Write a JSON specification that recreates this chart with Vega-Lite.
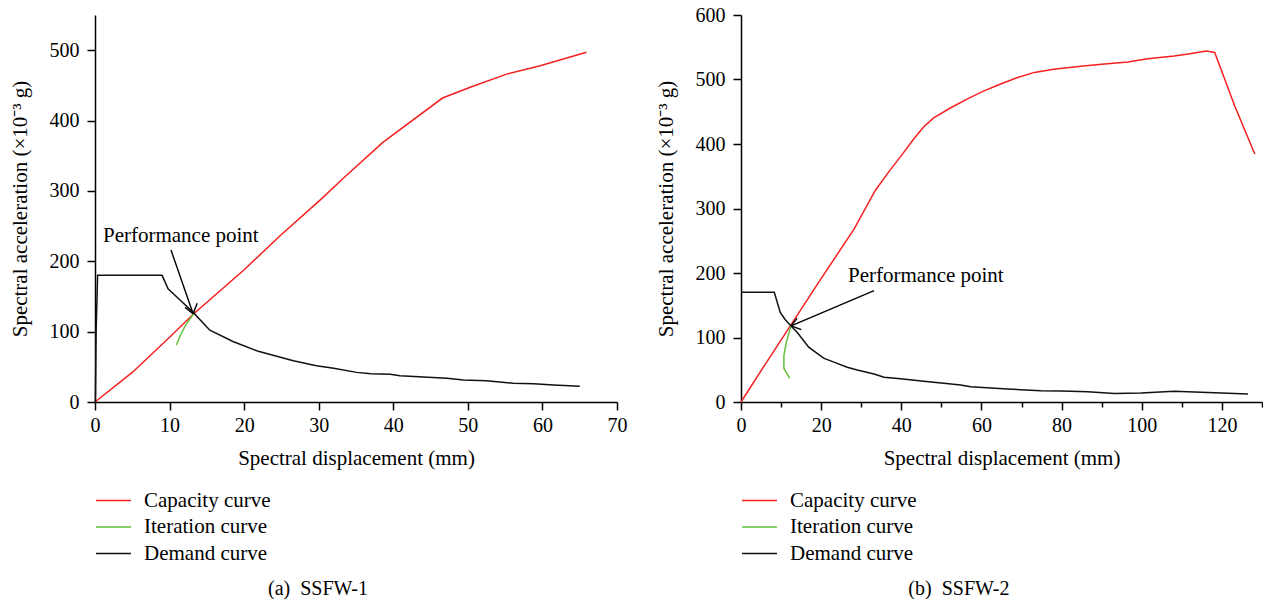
{
  "$schema": "https://vega.github.io/schema/vega-lite/v6.json",
  "padding": {"left": 9, "top": 5, "right": 0, "bottom": 0},
  "background": "white",
  "config": {
    "view": {"stroke": null},
    "font": "Liberation Serif",
    "concat": {"spacing": 28},
    "axis": {
      "grid": false,
      "domainColor": "black",
      "domainWidth": 1.5,
      "tickColor": "black",
      "tickWidth": 1.5,
      "labelFont": "Liberation Serif",
      "labelFontSize": 20,
      "labelColor": "black",
      "labelFlush": false,
      "labelOverlap": false,
      "titleFont": "Liberation Serif",
      "titleFontSize": 21,
      "titleFontWeight": "normal",
      "titleColor": "black"
    },
    "axisX": {"labelPadding": 5, "titlePadding": 12},
    "axisY": {"labelPadding": 8, "titlePadding": 19},
    "legend": {
      "orient": "none",
      "legendX": 0,
      "legendY": 473.5,
      "padding": 0,
      "symbolType": "stroke",
      "symbolSize": 1225,
      "symbolStrokeWidth": 1.5,
      "labelFont": "Liberation Serif",
      "labelFontSize": 21,
      "labelColor": "black",
      "labelOffset": 12,
      "clipHeight": 24,
      "rowPadding": 2.5,
      "direction": "vertical",
      "title": null
    },
    "title": {
      "font": "Liberation Serif",
      "fontSize": 20,
      "fontWeight": "normal",
      "color": "black",
      "orient": "bottom",
      "anchor": "middle",
      "frame": "bounds",
      "offset": 13
    }
  },
  "datasets": {
    "a": [
      {"series": "Capacity curve", "i": 1, "x": 0, "y": 0},
      {"series": "Capacity curve", "i": 2, "x": 5, "y": 42},
      {"series": "Capacity curve", "i": 3, "x": 10, "y": 92},
      {"series": "Capacity curve", "i": 4, "x": 13.2, "y": 125},
      {"series": "Capacity curve", "i": 5, "x": 20, "y": 188},
      {"series": "Capacity curve", "i": 6, "x": 25, "y": 238},
      {"series": "Capacity curve", "i": 7, "x": 30.4, "y": 289},
      {"series": "Capacity curve", "i": 8, "x": 33.3, "y": 318},
      {"series": "Capacity curve", "i": 9, "x": 38.6, "y": 369},
      {"series": "Capacity curve", "i": 10, "x": 46.6, "y": 432},
      {"series": "Capacity curve", "i": 11, "x": 50.5, "y": 448},
      {"series": "Capacity curve", "i": 12, "x": 55.2, "y": 466},
      {"series": "Capacity curve", "i": 13, "x": 59.7, "y": 478},
      {"series": "Capacity curve", "i": 14, "x": 65.9, "y": 497},
      {"series": "Iteration curve", "i": 1, "x": 10.9, "y": 81},
      {"series": "Iteration curve", "i": 2, "x": 11.5, "y": 96},
      {"series": "Iteration curve", "i": 3, "x": 12.2, "y": 110},
      {"series": "Iteration curve", "i": 4, "x": 13.2, "y": 125},
      {"series": "Demand curve", "i": 1, "x": 0.05, "y": 0},
      {"series": "Demand curve", "i": 2, "x": 0.15, "y": 100},
      {"series": "Demand curve", "i": 3, "x": 0.35, "y": 180},
      {"series": "Demand curve", "i": 4, "x": 9.0, "y": 180},
      {"series": "Demand curve", "i": 5, "x": 9.8, "y": 161},
      {"series": "Demand curve", "i": 6, "x": 11.4, "y": 145},
      {"series": "Demand curve", "i": 7, "x": 13.2, "y": 127},
      {"series": "Demand curve", "i": 8, "x": 15.4, "y": 102},
      {"series": "Demand curve", "i": 9, "x": 18.5, "y": 86},
      {"series": "Demand curve", "i": 10, "x": 21.9, "y": 72},
      {"series": "Demand curve", "i": 11, "x": 26.6, "y": 58.7},
      {"series": "Demand curve", "i": 12, "x": 29.7, "y": 51.6},
      {"series": "Demand curve", "i": 13, "x": 32, "y": 47.8},
      {"series": "Demand curve", "i": 14, "x": 35.1, "y": 42.1},
      {"series": "Demand curve", "i": 15, "x": 37, "y": 40},
      {"series": "Demand curve", "i": 16, "x": 39.6, "y": 39.3},
      {"series": "Demand curve", "i": 17, "x": 40.9, "y": 37.4},
      {"series": "Demand curve", "i": 18, "x": 47.2, "y": 33.6},
      {"series": "Demand curve", "i": 19, "x": 49.4, "y": 31.3},
      {"series": "Demand curve", "i": 20, "x": 52.5, "y": 30.3},
      {"series": "Demand curve", "i": 21, "x": 56.1, "y": 26.5},
      {"series": "Demand curve", "i": 22, "x": 58.8, "y": 26},
      {"series": "Demand curve", "i": 23, "x": 61.5, "y": 24.1},
      {"series": "Demand curve", "i": 24, "x": 65, "y": 22.3}
    ],
    "b": [
      {"series": "Capacity curve", "i": 1, "x": 0, "y": 0},
      {"series": "Capacity curve", "i": 2, "x": 6, "y": 58},
      {"series": "Capacity curve", "i": 3, "x": 12.3, "y": 118},
      {"series": "Capacity curve", "i": 4, "x": 19, "y": 182},
      {"series": "Capacity curve", "i": 5, "x": 28.2, "y": 268},
      {"series": "Capacity curve", "i": 6, "x": 33.5, "y": 328},
      {"series": "Capacity curve", "i": 7, "x": 37, "y": 358},
      {"series": "Capacity curve", "i": 8, "x": 40, "y": 382},
      {"series": "Capacity curve", "i": 9, "x": 43, "y": 407},
      {"series": "Capacity curve", "i": 10, "x": 45.5, "y": 426},
      {"series": "Capacity curve", "i": 11, "x": 48, "y": 440},
      {"series": "Capacity curve", "i": 12, "x": 52, "y": 455},
      {"series": "Capacity curve", "i": 13, "x": 56.5, "y": 470},
      {"series": "Capacity curve", "i": 14, "x": 60.5, "y": 482},
      {"series": "Capacity curve", "i": 15, "x": 64.8, "y": 493},
      {"series": "Capacity curve", "i": 16, "x": 69, "y": 503},
      {"series": "Capacity curve", "i": 17, "x": 73.2, "y": 511},
      {"series": "Capacity curve", "i": 18, "x": 78, "y": 516},
      {"series": "Capacity curve", "i": 19, "x": 84.8, "y": 520.5},
      {"series": "Capacity curve", "i": 20, "x": 90, "y": 523.5},
      {"series": "Capacity curve", "i": 21, "x": 96.5, "y": 527},
      {"series": "Capacity curve", "i": 22, "x": 101.5, "y": 532},
      {"series": "Capacity curve", "i": 23, "x": 108.1, "y": 536.5},
      {"series": "Capacity curve", "i": 24, "x": 112, "y": 540},
      {"series": "Capacity curve", "i": 25, "x": 116.1, "y": 544.2},
      {"series": "Capacity curve", "i": 26, "x": 118.2, "y": 542},
      {"series": "Capacity curve", "i": 27, "x": 123.2, "y": 459},
      {"series": "Capacity curve", "i": 28, "x": 128.2, "y": 384.5},
      {"series": "Iteration curve", "i": 1, "x": 12.5, "y": 118},
      {"series": "Iteration curve", "i": 2, "x": 11.3, "y": 92.5},
      {"series": "Iteration curve", "i": 3, "x": 10.7, "y": 72},
      {"series": "Iteration curve", "i": 4, "x": 10.7, "y": 52},
      {"series": "Iteration curve", "i": 5, "x": 12.2, "y": 36.7},
      {"series": "Demand curve", "i": 1, "x": 0, "y": 170},
      {"series": "Demand curve", "i": 2, "x": 8.3, "y": 170},
      {"series": "Demand curve", "i": 3, "x": 9.8, "y": 139},
      {"series": "Demand curve", "i": 4, "x": 11, "y": 128},
      {"series": "Demand curve", "i": 5, "x": 12.5, "y": 118},
      {"series": "Demand curve", "i": 6, "x": 14, "y": 108},
      {"series": "Demand curve", "i": 7, "x": 16.9, "y": 85},
      {"series": "Demand curve", "i": 8, "x": 20.6, "y": 68},
      {"series": "Demand curve", "i": 9, "x": 23.5, "y": 61},
      {"series": "Demand curve", "i": 10, "x": 26.5, "y": 53.8},
      {"series": "Demand curve", "i": 11, "x": 29, "y": 49.6},
      {"series": "Demand curve", "i": 12, "x": 33.2, "y": 43.4},
      {"series": "Demand curve", "i": 13, "x": 35.7, "y": 38.3},
      {"series": "Demand curve", "i": 14, "x": 39.8, "y": 36},
      {"series": "Demand curve", "i": 15, "x": 45.6, "y": 32},
      {"series": "Demand curve", "i": 16, "x": 50, "y": 29.5},
      {"series": "Demand curve", "i": 17, "x": 54.8, "y": 26.4},
      {"series": "Demand curve", "i": 18, "x": 57.3, "y": 23.7},
      {"series": "Demand curve", "i": 19, "x": 66.5, "y": 20.2},
      {"series": "Demand curve", "i": 20, "x": 74.8, "y": 17.5},
      {"series": "Demand curve", "i": 21, "x": 80, "y": 17},
      {"series": "Demand curve", "i": 22, "x": 86.5, "y": 16},
      {"series": "Demand curve", "i": 23, "x": 93.2, "y": 13},
      {"series": "Demand curve", "i": 24, "x": 99.8, "y": 14},
      {"series": "Demand curve", "i": 25, "x": 108.1, "y": 16.5},
      {"series": "Demand curve", "i": 26, "x": 118.2, "y": 14.5},
      {"series": "Demand curve", "i": 27, "x": 126.5, "y": 12.4}
    ],
    "arrowA": [
      {"x": 10.19, "y": 215.9, "x2": 13.16, "y2": 125.5},
      {"x": 13.16, "y": 125.5, "x2": 13.7, "y2": 140.2},
      {"x": 13.16, "y": 125.5, "x2": 12.07, "y2": 134.5}
    ],
    "arrowB": [
      {"x": 33.2, "y": 172.6, "x2": 12.5, "y2": 118},
      {"x": 12.5, "y": 118, "x2": 15.07, "y2": 112.1},
      {"x": 12.5, "y": 118, "x2": 14.0, "y2": 129.8}
    ],
    "labelA": [{"x": 1.07, "y": 227, "label": "Performance point"}],
    "labelB": [{"x": 26.7, "y": 186.5, "label": "Performance point"}]
  },
  "resolve": {"legend": {"color": "independent"}},
  "hconcat": [
    {
      "width": 522,
      "height": 387,
      "title": {"text": "(a)\u00a0 SSFW-1"},
      "layer": [
        {
          "data": {"name": "a"},
          "mark": {"type": "line", "strokeWidth": 1.5},
          "encoding": {
            "x": {
              "field": "x", "type": "quantitative",
              "scale": {"domain": [0, 70], "nice": false, "zero": false},
              "axis": {
                "title": "Spectral displacement (mm)",
                "values": [0, 5, 10, 15, 20, 25, 30, 35, 40, 45, 50, 55, 60, 65, 70],
                "labelExpr": "datum.value % 10 === 0 ? datum.label : ''",
                "tickSize": {"condition": {"test": "datum.value % 10 === 0", "value": 8}, "value": 5}
              }
            },
            "y": {
              "field": "y", "type": "quantitative",
              "scale": {"domain": [0, 550], "nice": false, "zero": false},
              "axis": {
                "title": "Spectral acceleration (×10⁻³ g)",
                "values": [0, 50, 100, 150, 200, 250, 300, 350, 400, 450, 500],
                "labelExpr": "datum.value % 100 === 0 ? datum.label : ''",
                "tickSize": {"condition": {"test": "datum.value % 100 === 0", "value": 8}, "value": 5}
              }
            },
            "color": {
              "field": "series", "type": "nominal",
              "scale": {"domain": ["Capacity curve", "Iteration curve", "Demand curve"], "range": ["#f52020", "#62c23c", "#111111"]},
              "legend": {"title": null}
            },
            "order": {"field": "i", "type": "quantitative"}
          }
        },
        {
          "data": {"name": "arrowA"},
          "mark": {"type": "rule", "color": "black", "strokeWidth": 1.4},
          "encoding": {
            "x": {"field": "x", "type": "quantitative"},
            "y": {"field": "y", "type": "quantitative"},
            "x2": {"field": "x2"},
            "y2": {"field": "y2"}
          }
        },
        {
          "data": {"name": "labelA"},
          "mark": {"type": "text", "align": "left", "baseline": "alphabetic", "font": "Liberation Serif", "fontSize": 21, "color": "black"},
          "encoding": {
            "x": {"field": "x", "type": "quantitative"},
            "y": {"field": "y", "type": "quantitative"},
            "text": {"field": "label"}
          }
        }
      ]
    },
    {
      "width": 521,
      "height": 387,
      "title": {"text": "(b)\u00a0 SSFW-2"},
      "layer": [
        {
          "data": {"name": "b"},
          "mark": {"type": "line", "strokeWidth": 1.5},
          "encoding": {
            "x": {
              "field": "x", "type": "quantitative",
              "scale": {"domain": [0, 130], "nice": false, "zero": false},
              "axis": {
                "title": "Spectral displacement (mm)",
                "values": [0, 10, 20, 30, 40, 50, 60, 70, 80, 90, 100, 110, 120, 130],
                "labelExpr": "datum.value % 20 === 0 && datum.value <= 120 ? datum.label : ''",
                "tickSize": {"condition": {"test": "datum.value % 20 === 0", "value": 8}, "value": 5}
              }
            },
            "y": {
              "field": "y", "type": "quantitative",
              "scale": {"domain": [0, 600], "nice": false, "zero": false},
              "axis": {
                "title": "Spectral acceleration (×10⁻³ g)",
                "values": [0, 50, 100, 150, 200, 250, 300, 350, 400, 450, 500, 550, 600],
                "labelExpr": "datum.value % 100 === 0 ? datum.label : ''",
                "tickSize": {"condition": {"test": "datum.value % 100 === 0", "value": 8}, "value": 5}
              }
            },
            "color": {
              "field": "series", "type": "nominal",
              "scale": {"domain": ["Capacity curve", "Iteration curve", "Demand curve"], "range": ["#f52020", "#62c23c", "#111111"]},
              "legend": {"title": null}
            },
            "order": {"field": "i", "type": "quantitative"}
          }
        },
        {
          "data": {"name": "arrowB"},
          "mark": {"type": "rule", "color": "black", "strokeWidth": 1.4},
          "encoding": {
            "x": {"field": "x", "type": "quantitative"},
            "y": {"field": "y", "type": "quantitative"},
            "x2": {"field": "x2"},
            "y2": {"field": "y2"}
          }
        },
        {
          "data": {"name": "labelB"},
          "mark": {"type": "text", "align": "left", "baseline": "alphabetic", "font": "Liberation Serif", "fontSize": 21, "color": "black"},
          "encoding": {
            "x": {"field": "x", "type": "quantitative"},
            "y": {"field": "y", "type": "quantitative"},
            "text": {"field": "label"}
          }
        }
      ]
    }
  ]
}
